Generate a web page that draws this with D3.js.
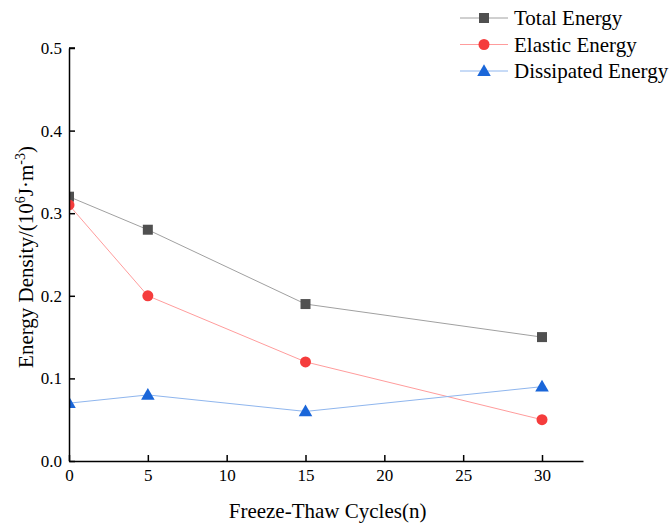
<!DOCTYPE html>
<html>
<head>
<meta charset="utf-8">
<script src="https://cdn.jsdelivr.net/npm/d3@7"></script>
<style>
  body { margin: 0; background: #fff; }
  text { font-family: "Liberation Serif", "Times New Roman", serif; }
</style>
</head>
<body>
<div id="chart"></div>
<script>
const cycles = [0, 5, 15, 30];
const totalEnergy = [0.32, 0.28, 0.19, 0.15];
const elasticEnergy = [0.31, 0.20, 0.12, 0.05];
const dissipatedEnergy = [0.07, 0.08, 0.06, 0.09];
const xTicks = [0, 5, 10, 15, 20, 25, 30];
const yTicks = [0, 0.1, 0.2, 0.3, 0.4, 0.5];

const width = 672, height = 523;
const margin = { left: 69, right: 89, top: 48, bottom: 62 };
const innerW = width - margin.left - margin.right;
const innerH = height - margin.top - margin.bottom;

const series = [
  { name: 'Total Energy', values: totalEnergy, line: '#a0a0a0', fill: '#505050', shape: 'square' },
  { name: 'Elastic Energy', values: elasticEnergy, line: '#ff9c9c', fill: '#f53c3c', shape: 'circle' },
  { name: 'Dissipated Energy', values: dissipatedEnergy, line: '#8fb6ee', fill: '#1a66d9', shape: 'triangle' }
];

let svg = d3.select('#chart')
  .append('svg')
  .attr('width', width)
  .attr('height', height);

let g = svg.append('g')
  .attr('transform', `translate(${margin.left}, ${margin.top})`);

let x = d3.scaleLinear().domain([0, 32.6]).range([0, innerW]);
let y = d3.scaleLinear().domain([0, 0.5]).range([innerH, 0]);

g.append('clipPath').attr('id', 'plot-clip')
  .append('rect')
  .attr('x', 0).attr('y', -10)
  .attr('width', innerW + 10).attr('height', innerH + 10);

function symbolFor(shape) {
  if (shape === 'square') return d3.symbol().type(d3.symbolSquare).size(100);
  if (shape === 'circle') return d3.symbol().type(d3.symbolCircle).size(95);
  return d3.symbol().type(d3.symbolTriangle).size(80);
}

let plot = g.append('g').attr('clip-path', 'url(#plot-clip)');

let line = d3.line()
  .x((d, i) => x(cycles[i]))
  .y(d => y(d));

series.forEach(s => {
  plot.append('path')
    .datum(s.values)
    .attr('fill', 'none')
    .attr('stroke', s.line)
    .attr('stroke-width', 1)
    .attr('d', line);
});

series.forEach(s => {
  plot.selectAll(null)
    .data(s.values)
    .enter()
    .append('path')
    .attr('d', symbolFor(s.shape))
    .attr('transform', (d, i) => `translate(${x(cycles[i])}, ${y(d) + (s.shape === 'triangle' ? 1 : 0)})`)
    .attr('fill', s.fill);
});

// axes with inward ticks
let xAxis = g.append('g')
  .attr('transform', `translate(0, ${innerH})`)
  .call(d3.axisBottom(x).tickValues(xTicks).tickSizeInner(-6).tickSizeOuter(0).tickPadding(8).tickFormat(d3.format('d')));

let yAxis = g.append('g')
  .call(d3.axisLeft(y).tickValues(yTicks).tickSizeInner(-6).tickSizeOuter(0).tickPadding(7).tickFormat(d3.format('.1f')));

[xAxis, yAxis].forEach(a => {
  a.attr('font-family', '"Liberation Serif", serif').attr('font-size', 17);
  a.select('.domain').attr('stroke', '#000').attr('stroke-width', 1.5);
  a.selectAll('.tick line').attr('stroke', '#000').attr('stroke-width', 1.5);
  a.selectAll('.tick text')
    .style('font-family', '"Liberation Serif", serif')
    .style('font-size', '17px')
    .attr('fill', '#000');
});

// the 0.5 tick end cap
yAxis.append('line')
  .attr('x1', 0).attr('x2', 6)
  .attr('y1', y(0.5)).attr('y2', y(0.5))
  .attr('stroke', '#000').attr('stroke-width', 1.5);

svg.append('text')
  .attr('x', margin.left + x(16.4))
  .attr('y', 518)
  .style('text-anchor', 'middle')
  .style('font-size', '21px')
  .text('Freeze-Thaw Cycles(n)');

let yTitle = svg.append('text')
  .attr('transform', `translate(33, 257) rotate(-90)`)
  .style('text-anchor', 'middle')
  .style('font-size', '21px');
yTitle.append('tspan').text('Energy Density/(10');
yTitle.append('tspan').attr('dy', -8).style('font-size', '14px').text('6');
yTitle.append('tspan').attr('dy', 8).text('J\u00b7m');
yTitle.append('tspan').attr('dy', -8).style('font-size', '14px').text('-3');
yTitle.append('tspan').attr('dy', 8).text(')');

// legend
let legend = svg.append('g').attr('transform', 'translate(460, 18)');
series.forEach((s, i) => {
  let row = legend.append('g').attr('transform', `translate(0, ${i * 26.5})`);
  row.append('line')
    .attr('x1', 0).attr('x2', 48)
    .attr('y1', 0).attr('y2', 0)
    .attr('stroke', s.line).attr('stroke-width', 1);
  row.append('path')
    .attr('d', symbolFor(s.shape))
    .attr('transform', `translate(24, ${s.shape === 'triangle' ? 1 : 0})`)
    .attr('fill', s.fill);
  row.append('text')
    .attr('x', 54)
    .attr('y', 7)
    .style('font-size', '21px')
    .text(s.name);
});
</script>
</body>
</html>
